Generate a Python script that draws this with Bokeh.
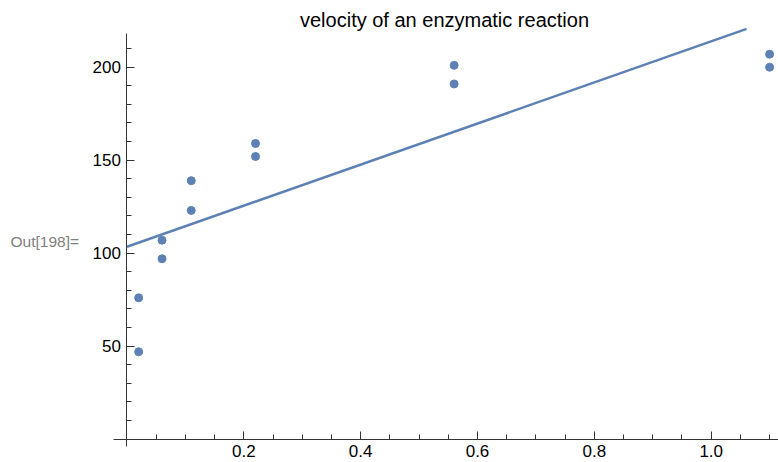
import numpy as np
from bokeh.plotting import figure
from bokeh.models import FixedTicker, Label, PrintfTickFormatter
from bokeh.embed import file_html
from bokeh.resources import INLINE

# Data (Puromycin, treated)
concentration = [0.02, 0.02, 0.06, 0.06, 0.11, 0.11, 0.22, 0.22, 0.56, 0.56, 1.10, 1.10]
rate = [76, 47, 97, 107, 123, 139, 159, 152, 191, 201, 207, 200]

x_major = [0.2, 0.4, 0.6, 0.8, 1.0]
x_minor = [0.05, 0.1, 0.15, 0.25, 0.3, 0.35, 0.45, 0.5, 0.55, 0.65, 0.7, 0.75,
           0.85, 0.9, 0.95, 1.05, 1.1]
y_major = [50, 100, 150, 200]
y_minor = [10, 20, 30, 40, 60, 70, 80, 90, 110, 120, 130, 140, 160, 170, 180, 190, 210]

title_text = "velocity of an enzymatic reaction"
cell_label = "Out[198]="

# plot region (Mathematica-style axes crossing at the origin)
X_AXIS_EXTENT = (-0.0231, 1.1152)
Y_AXIS_EXTENT = (-3.9, 218.3)
PLOT_TOP = 220.6

# least squares linear fit of the data, drawn over [0, 1.1] and clipped at the top
slope, intercept = np.polyfit(concentration, rate, 1)
x_end = min(1.1, (PLOT_TOP - intercept) / slope)
fit_x = [0.0, x_end]
fit_y = [intercept + slope * v for v in fit_x]

BLUE = "#5E81B5"
FONT = "Liberation Sans"

p = figure(width=778, height=462, output_backend="svg", toolbar_location=None,
           x_range=(-0.2165, 1.1152), y_range=(-12.53, 235.86),
           min_border_left=0, min_border_right=0, min_border_top=0, min_border_bottom=0)
p.outline_line_color = None
p.grid.visible = False
p.background_fill_color = "white"
p.border_fill_color = "white"

for ax in (p.xaxis, p.yaxis):
    ax.fixed_location = 0
    ax.axis_line_color = "#333333"
    ax.major_tick_line_color = "#333333"
    ax.minor_tick_line_color = "#333333"
    ax.major_tick_in = 8
    ax.major_tick_out = 0
    ax.minor_tick_in = 5
    ax.minor_tick_out = 0
    ax.major_label_text_font = FONT
    ax.major_label_text_font_size = "17px"
    ax.major_label_text_color = "black"

p.xaxis.bounds = X_AXIS_EXTENT
p.yaxis.bounds = Y_AXIS_EXTENT
p.xaxis.ticker = FixedTicker(ticks=x_major, minor_ticks=x_minor)
p.yaxis.ticker = FixedTicker(ticks=y_major, minor_ticks=y_minor)
p.xaxis.formatter = PrintfTickFormatter(format="%.1f")
p.xaxis.major_label_standoff = 6
p.yaxis.major_label_standoff = 6

p.line(fit_x, fit_y, line_color=BLUE, line_width=2.5)
p.scatter(concentration, rate, size=8, fill_color=BLUE, line_color=BLUE)

p.add_layout(Label(x=0.5435, y=225.2, text=title_text, text_font=FONT, text_font_size="20px",
                   text_color="black", text_align="center", text_baseline="alphabetic"))
p.add_layout(Label(x=-0.1994, y=106.3, text=cell_label, text_font=FONT, text_font_size="15.5px",
                   text_color="#808080", text_baseline="middle"))

open("out.html", "w").write(file_html(p, INLINE))
